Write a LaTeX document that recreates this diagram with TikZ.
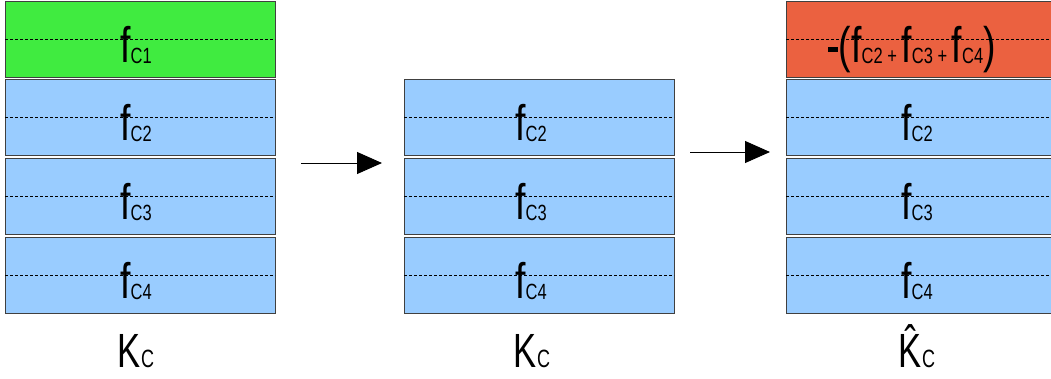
\documentclass[tikz,border=0pt]{standalone}
\usepackage{fontspec}
\usepackage{graphicx}
\setmainfont{Liberation Sans}
\usetikzlibrary{arrows.meta}

\definecolor{cellgreen}{RGB}{64,235,64}
\definecolor{cellblue}{RGB}{153,204,255}
\definecolor{cellred}{RGB}{235,97,64}

% condensed term f_{C#1}
\newcommand\subC[1]{\raisebox{-1.5pt}{\fontsize{22}{22}\selectfont C#1}}
\newcommand\subplus{\raisebox{-1.5pt}{\fontsize{22}{22}\selectfont\ +\ }}
\newcommand\fterm[1]{\scalebox{0.75}[1]{\fontsize{50}{50}\selectfont f\subC{#1}}}
\newcommand\kname[1]{\scalebox{0.72}[1]{\fontsize{48}{48}\selectfont #1\fontsize{25}{25}\selectfont C}}

\begin{document}
\begin{tikzpicture}[x=1pt,y=-1pt,
  cell/.style={draw=black!75, line width=0.8pt, minimum width=270pt,
    minimum height=76pt, inner sep=0pt, outer sep=0pt},
  midline/.style={black, line width=0.6pt, dash pattern=on 3pt off 2pt},
  term/.style={anchor=base, inner sep=0pt},
  flow/.style={line width=1pt, -{Triangle[length=25pt,width=22pt]}}]
\path[use as bounding box] (0,0) rectangle (1051,378);
\clip (0,0) rectangle (1051,378);

% left stack K_C
\node[cell, fill=cellgreen] (a1) at (140,39) {};
\node[cell, fill=cellblue]  (a2) at (140,117) {};
\node[cell, fill=cellblue]  (a3) at (140,196) {};
\node[cell, fill=cellblue]  (a4) at (140,275) {};

% middle stack K_C
\node[cell, fill=cellblue]  (b2) at (539,117) {};
\node[cell, fill=cellblue]  (b3) at (539,196) {};
\node[cell, fill=cellblue]  (b4) at (539,275) {};

% right stack \hat K_C
\node[cell, fill=cellred]   (c1) at (921,39) {};
\node[cell, fill=cellblue]  (c2) at (921,117) {};
\node[cell, fill=cellblue]  (c3) at (921,196) {};
\node[cell, fill=cellblue]  (c4) at (921,275) {};

% dashed centre lines
\foreach \n in {a1,a2,a3,a4,b2,b3,b4,c1,c2,c3,c4}
  \draw[midline] (\n.west) -- (\n.east);

% cell labels
\node[term] (ta1) at (136,62)  {\fterm{1}};
\node[term] (ta2) at (136,140) {\fterm{2}};
\node[term] (ta3) at (136,219) {\fterm{3}};
\node[term] (ta4) at (136,298) {\fterm{4}};

\node[term] (tb2) at (531,140) {\fterm{2}};
\node[term] (tb3) at (531,219) {\fterm{3}};
\node[term] (tb4) at (531,298) {\fterm{4}};

\node[term] (tc1) at (912,62)  {\scalebox{0.75}[1]{\fontsize{50}{50}\selectfont
  \rule[10pt]{13pt}{5pt}\kern1pt(f\subC{2}\subplus f\subC{3}\subplus f\subC{4})}};
\node[term] (tc2) at (917,140) {\fterm{2}};
\node[term] (tc3) at (917,219) {\fterm{3}};
\node[term] (tc4) at (917,298) {\fterm{4}};

% stack names
\node[term] (ka) at (136,367) {\kname{K}};
\node[term] (kb) at (532,367) {\kname{K}};
\node[term] (kc) at (917,367) {\kname{\^{K}}};

% transformation arrows
\coordinate (s1) at (301,163);
\coordinate (e1) at (382,163);
\coordinate (s2) at (690,152);
\coordinate (e2) at (770,152);
\draw[flow] (s1) -- (e1);
\draw[flow] (s2) -- (e2);
\end{tikzpicture}
\end{document}
